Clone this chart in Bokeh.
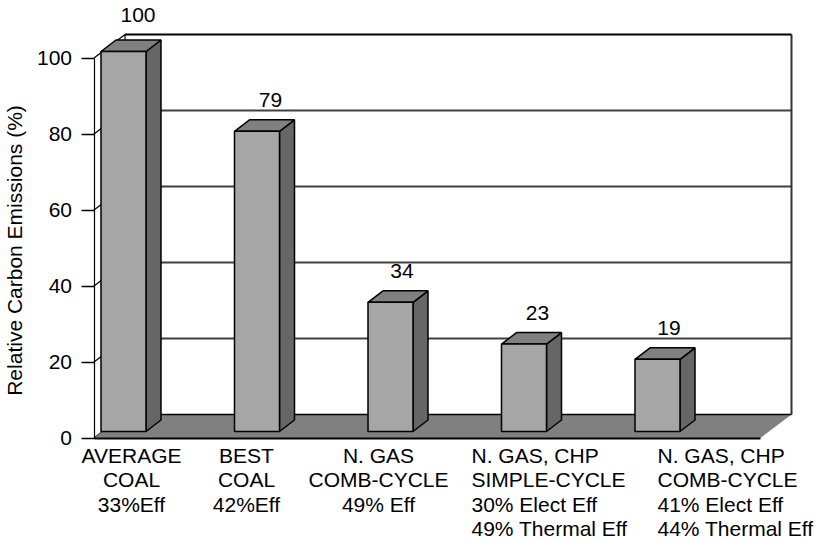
import math

from bokeh.embed import file_html
from bokeh.resources import INLINE
from bokeh.plotting import figure
from bokeh.models import ColumnDataSource, FixedTicker, LinearAxis
from bokeh.core.properties import value

# ---- data
categories = [
    ["AVERAGE", "COAL", "33%Eff"],
    ["BEST", "COAL", "42%Eff"],
    ["N. GAS", "COMB-CYCLE", "49% Eff"],
    ["N. GAS, CHP", "SIMPLE-CYCLE", "30% Elect Eff", "49% Thermal Eff"],
    ["N. GAS, CHP", "COMB-CYCLE", "41% Elect Eff", "44% Thermal Eff"],
]
emissions = [100, 79, 34, 23, 19]
y_ticks = [0, 20, 40, 60, 80, 100]
y_title = "Relative Carbon Emissions (%)"

# ---- layout (pixels per data unit on each scale)
PX_PER_CAT = 133.5
PX_PER_VAL = 3.8
ZERO_Y_PX = 437.5
FIRST_BAR_PX = 123
WALL_PX, FLOOR_RIGHT_PX = 93.5, 760
W, H = 818, 540
FONT = value("Liberation Sans")
FS = value("21px")
LINE_PITCH = 24.3


def dx(px):
    return px / PX_PER_CAT


def dy(px):
    return px / PX_PER_VAL


p = figure(
    width=W, height=H,
    x_range=(dx(-FIRST_BAR_PX), dx(W - FIRST_BAR_PX)),
    y_range=(dy(ZERO_Y_PX - H), dy(ZERO_Y_PX)),
    output_backend="svg", toolbar_location=None,
    min_border_left=0, min_border_right=0, min_border_top=0, min_border_bottom=0,
    x_axis_location=None, y_axis_location=None,
)
p.grid.visible = False
p.outline_line_color = None
p.background_fill_color = "white"

wall = dx(WALL_PX - FIRST_BAR_PX)
floor_right = dx(FLOOR_RIGHT_PX - FIRST_BAR_PX)

# depth of the box and bars
box_x, box_y = dx(31), dy(23.5)
half_w = dx(22.5)
bar_base = dy(6.5)
bar_dx, bar_dy = dx(15), dy(11.5)

# back wall and its gridlines
for t in y_ticks[1:-1]:
    p.segment(wall + box_x, t + box_y, floor_right + box_x, t + box_y,
              line_color="#404040", line_width=2)
top = y_ticks[-1] + box_y
p.line([wall + box_x, wall + box_x], [box_y, top], line_color="black", line_width=1.2)
p.line([floor_right + box_x, floor_right + box_x], [box_y, top], line_color="#333333", line_width=2)
p.line([wall + box_x, floor_right + box_x], [top, top], line_color="black", line_width=2)

# left wall diagonals
for t in y_ticks:
    p.segment(wall, t, wall + box_x, t + box_y, line_color="black", line_width=1.2)

# floor
p.patch([wall, floor_right, floor_right + box_x, wall + box_x],
        [0, 0, box_y, box_y], fill_color="#808080", line_color=None)
p.line([wall + box_x, floor_right + box_x], [box_y, box_y], line_color="black", line_width=1.5)

# bars
xs = list(range(len(emissions)))
src = ColumnDataSource(dict(
    front_x=[[i - half_w, i + half_w, i + half_w, i - half_w] for i in xs],
    front_y=[[bar_base, bar_base, bar_base + v, bar_base + v] for v in emissions],
    side_x=[[i + half_w, i + half_w + bar_dx, i + half_w + bar_dx, i + half_w] for i in xs],
    side_y=[[bar_base, bar_base + bar_dy, bar_base + v + bar_dy, bar_base + v] for v in emissions],
    top_x=[[i - half_w, i + half_w, i + half_w + bar_dx, i - half_w + bar_dx] for i in xs],
    top_y=[[bar_base + v, bar_base + v, bar_base + v + bar_dy, bar_base + v + bar_dy] for v in emissions],
))
p.patches("side_x", "side_y", source=src, fill_color="#666666", line_color="black", line_width=1.5)
p.patches("top_x", "top_y", source=src, fill_color="#808080", line_color="black", line_width=1.5)
p.patches("front_x", "front_y", source=src, fill_color="#a6a6a6", line_color="black", line_width=1.5)

# value labels
text_style = dict(text_font=FONT, text_font_size=FS, text_color="black", text_baseline="alphabetic")
value_shift = [14.5, 13.5, 11.5, 13.5, 11.5]
for i, v, sh in zip(xs, emissions, value_shift):
    p.text([i], [bar_base + v], text=[str(v)], x_offset=sh, y_offset=-37 if v == 100 else -31,
           text_align="center", **text_style)

# axes
y_ax = LinearAxis(
    ticker=FixedTicker(ticks=y_ticks), bounds=(0, 100), fixed_location=wall,
    major_tick_in=0, major_tick_out=13, minor_tick_line_color=None,
    major_tick_line_color="black", major_tick_line_width=1.4,
    axis_line_color="black", axis_line_width=1.2,
    major_label_standoff=9, major_label_text_font="Liberation Sans", major_label_text_font_size="21px",
    major_label_text_color="black",
)
p.add_layout(y_ax, "left")
x_ax = LinearAxis(
    ticker=FixedTicker(ticks=[]), bounds=(wall, floor_right), fixed_location=0,
    axis_line_color="black", axis_line_width=1.8,
    major_tick_line_color=None, minor_tick_line_color=None,
    major_label_text_font_size="0px",
)
p.add_layout(x_ax, "below")

# axis title
p.text([wall], [50], text=[y_title], angle=math.pi / 2, x_offset=-80, y_offset=2.5,
       text_align="center", **text_style)

# category labels, one text per line
label_shift = [8, -10.5, -12, -52.5, 0]
label_align = ["center", "center", "center", "left", "left"]
for i, (lines, sh, al) in enumerate(zip(categories, label_shift, label_align)):
    for n, line in enumerate(lines):
        p.text([i], [0], text=[line], x_offset=sh, y_offset=17.5 + n * LINE_PITCH,
               text_align=al, **text_style)

open("out.html", "w").write(file_html(p, INLINE))
